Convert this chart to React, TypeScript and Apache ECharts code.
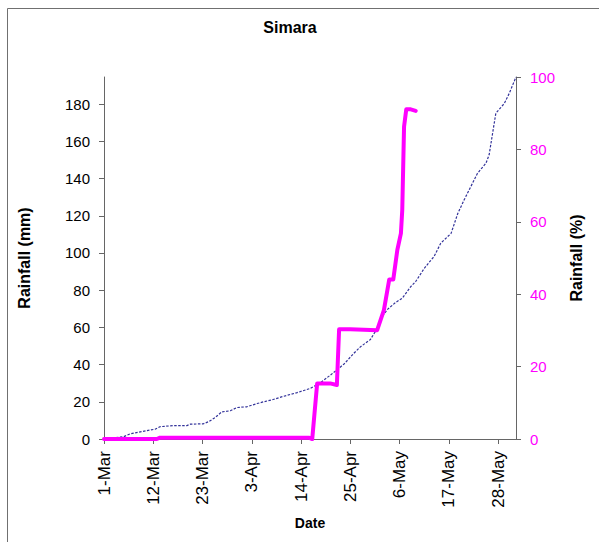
import React, { useEffect, useRef } from "react";
import * as echarts from "echarts";

// x values are days since 1-Mar
const xTickDays = [0, 11, 22, 33, 44, 55, 66, 77, 88];
const xTickLabels = ["1-Mar", "12-Mar", "23-Mar", "3-Apr", "14-Apr", "25-Apr", "6-May", "17-May", "28-May"];

// Cumulative rainfall (%) — blue dotted line (right axis)
const cumDays = [0, 4.3, 5.8, 9.5, 11.4, 12.5, 15.5, 18.5, 19.3, 22.2, 23.4, 24.8, 26.3, 28.2, 29.7, 31.9, 34.2, 35.7, 37.5, 39.8, 41.6, 43.1, 46.1, 48.4, 50.6, 53.6, 55.8, 57.3, 59.5, 60.7, 61.8, 63.3, 65.1, 66.6, 68.5, 69.6, 71.5, 73, 73.7, 75.2, 77.5, 79, 80.4, 81.9, 83.4, 85.3, 86, 87.5, 89.4, 90.5, 92];
const cumPct = [0, 0.6, 1.4, 2.3, 2.7, 3.4, 3.7, 3.7, 4.1, 4.2, 4.8, 5.9, 7.5, 7.8, 8.7, 8.9, 9.8, 10.3, 10.8, 11.7, 12.3, 12.8, 14.0, 15.6, 17.7, 20.7, 23.7, 25.5, 27.5, 29.9, 33.3, 35.8, 37.7, 38.9, 42.1, 43.5, 47.1, 49.4, 50.4, 54.1, 56.8, 62.3, 66.0, 69.7, 73.4, 76.2, 78.5, 90.0, 92.7, 95.5, 100];

// Rainfall (mm) — magenta line (left axis)
const rainDays = [0, 11.8, 12.5, 45.7, 46.5, 47.6, 50.5, 52.0, 52.5, 55.0, 61.0, 62.5, 63.7, 64.6, 65.5, 66.3, 66.6, 67.0, 67.5, 68.5, 69.6];
const rainMm = [0, 0, 0.7, 0.7, 0, 29.9, 29.9, 29.0, 59.0, 59.0, 58.5, 69.3, 85.8, 85.8, 101.6, 110.5, 123.0, 167.8, 177.2, 177.2, 176.4];

const FONT = "Liberation Sans, Arial, sans-serif";

export default function App() {
  const ref = useRef<HTMLDivElement>(null);
  useEffect(() => {
    if (!ref.current) return;
    const chart = echarts.init(ref.current, null, { renderer: "svg" });
    const axisColor = "#666666";
    chart.setOption({
      animation: false,
      backgroundColor: "#ffffff",
      textStyle: { fontFamily: FONT },
      graphic: [
        {
          type: "rect",
          shape: { x: 7.5, y: 8.5, width: 600, height: 540 },
          style: { fill: "none", stroke: "#707070", lineWidth: 1 },
        },
        {
          type: "text",
          x: 290,
          y: 27,
          style: {
            text: "Simara",
            fontFamily: FONT,
            fontSize: 16,
            fontWeight: "bold",
            fill: "#000",
            textAlign: "center",
            textVerticalAlign: "middle",
          },
        },
      ],
      grid: { left: 104, right: 83, top: 77, bottom: 103, containLabel: false },
      xAxis: {
        type: "value",
        min: 0,
        max: 92,
        interval: 11,
        name: "Date",
        nameLocation: "middle",
        nameGap: 72,
        nameTextStyle: { fontFamily: FONT, fontSize: 14, fontWeight: "bold", color: "#000", verticalAlign: "top" },
        splitLine: { show: false },
        axisLine: { show: true, lineStyle: { color: axisColor, width: 1 } },
        axisTick: { show: true, inside: false, length: 5, lineStyle: { color: axisColor } },
        axisLabel: {
          rotate: 90,
          margin: 12,
          fontFamily: FONT,
          fontSize: 17,
          color: "#000",
          showMaxLabel: false,
          formatter: (v: number) => {
            const i = xTickDays.indexOf(Math.round(v));
            return i >= 0 ? xTickLabels[i] : "";
          },
        },
      },
      yAxis: [
        {
          type: "value",
          min: 0,
          max: 194.6,
          interval: 20,
          position: "left",
          name: "Rainfall (mm)",
          nameLocation: "middle",
          nameGap: 72,
          nameRotate: 90,
          nameTextStyle: { fontFamily: FONT, fontSize: 16, fontWeight: "bold", color: "#000" },
          splitLine: { show: false },
          axisLine: { show: true, lineStyle: { color: axisColor, width: 1 } },
          axisTick: { show: true, inside: false, length: 5, lineStyle: { color: axisColor } },
          axisLabel: {
            margin: 14,
            fontFamily: FONT,
            fontSize: 15,
            color: "#000",
            showMaxLabel: false,
          },
        },
        {
          type: "value",
          min: 0,
          max: 100,
          interval: 20,
          position: "right",
          name: "Rainfall (%)",
          nameLocation: "middle",
          nameGap: 52,
          nameRotate: 90,
          nameTextStyle: { fontFamily: FONT, fontSize: 16, fontWeight: "bold", color: "#000" },
          splitLine: { show: false },
          axisLine: { show: true, lineStyle: { color: axisColor, width: 1 } },
          axisTick: { show: true, inside: false, length: 5, lineStyle: { color: axisColor } },
          axisLabel: {
            margin: 14,
            fontFamily: FONT,
            fontSize: 15,
            color: "#ff00ff",
          },
        },
      ],
      series: [
        {
          type: "line",
          yAxisIndex: 1,
          data: cumDays.map((d, i) => [d, cumPct[i]]),
          showSymbol: false,
          symbol: "none",
          smooth: false,
          lineStyle: { color: "#33339a", width: 1.2, type: [2.5, 1.5] },
          z: 2,
        },
        {
          type: "line",
          yAxisIndex: 0,
          data: rainDays.map((d, i) => [d, rainMm[i]]),
          showSymbol: false,
          symbol: "none",
          lineStyle: { color: "#ff00ff", width: 4, cap: "round", join: "round" },
          z: 3,
        },
      ],
    });
    return () => chart.dispose();
  }, []);
  return (
    <div
      ref={ref}
      style={{ position: "absolute", left: 0, top: 0, width: 599, height: 542 }}
    />
  );
}
